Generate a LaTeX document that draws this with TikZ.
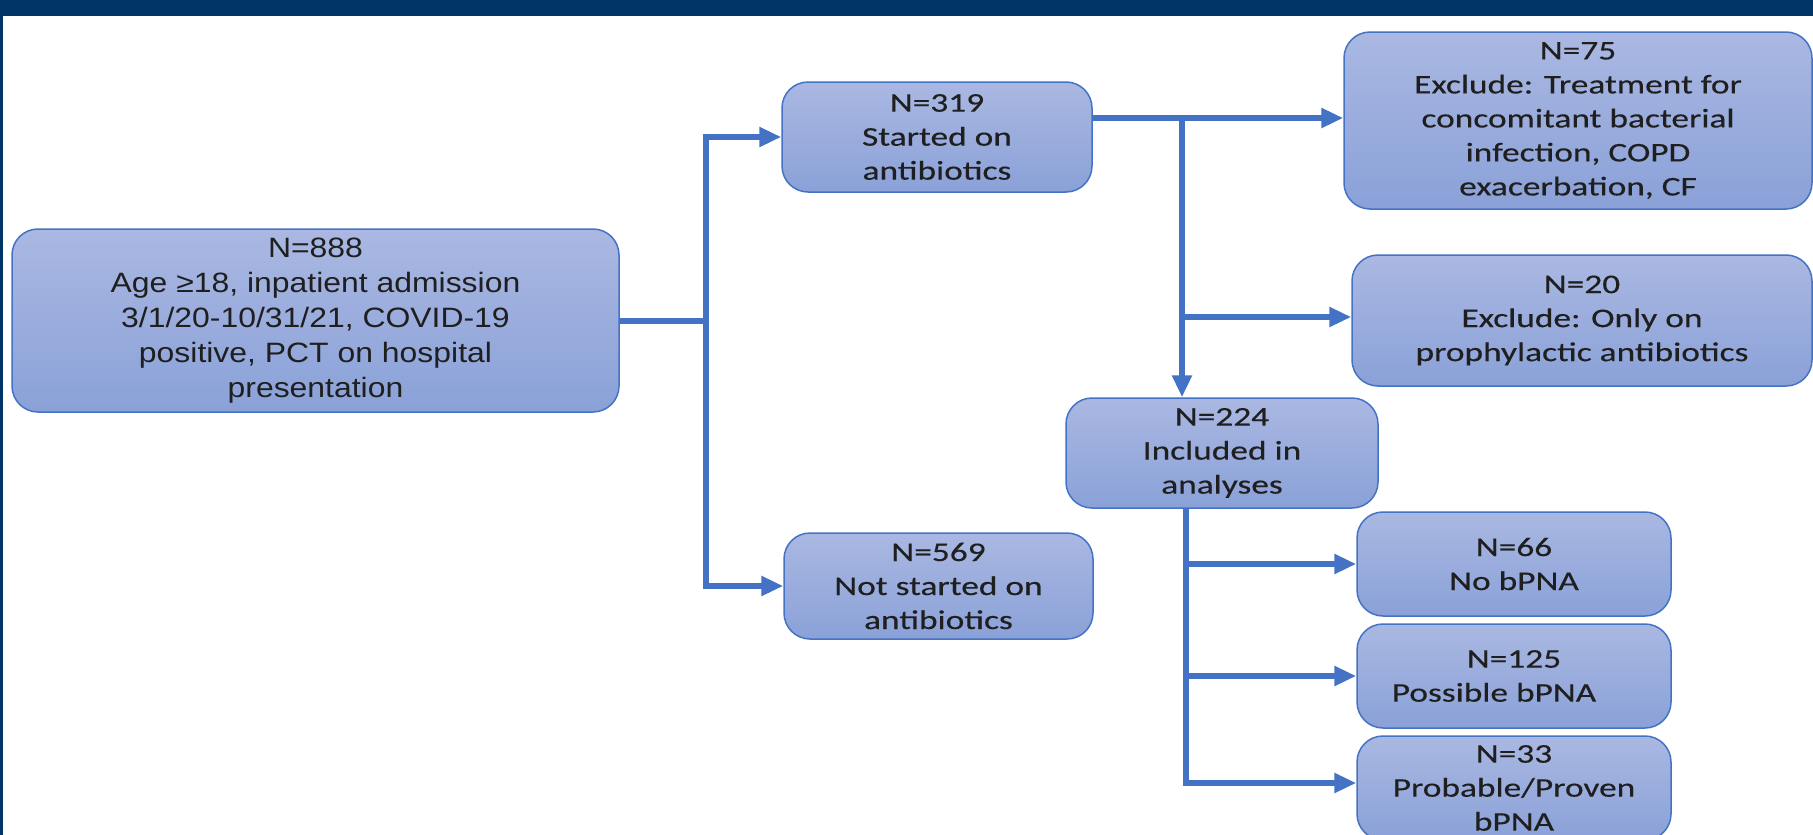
\documentclass[tikz,border=0pt]{standalone}
\usepackage{fontspec}
\setmainfont{Carlito}[FakeStretch=1.31,FakeBold=0.3]
\newfontfamily\arialfont{Liberation Sans}[FakeStretch=1.14]
\usetikzlibrary{arrows.meta}

\definecolor{navy}{RGB}{0,51,102}
\definecolor{flowblue}{RGB}{68,114,196}
\definecolor{boxtop}{RGB}{170,184,226}
\definecolor{boxbot}{RGB}{138,161,216}

\begin{document}
\begin{tikzpicture}[x=1pt,y=-1pt,
  stagebox/.style={draw=flowblue,line width=1.5pt,rounded corners=26pt,
    top color=boxtop,bottom color=boxbot,align=center,inner sep=0pt,
    text=black!88,font=\fontsize{27}{34}\selectfont},
  link/.style={flowblue,line width=6pt},
  arr/.style={link,-{Triangle[length=22pt,width=19pt]}}]

\useasboundingbox (0,0) rectangle (1813,835);
\clip (0,0) rectangle (1813,835);

% frame
\fill[navy] (0,0) rectangle (1813,16);
\fill[navy] (0,0) rectangle (2.5,835);

% boxes
\node[stagebox,font=\arialfont\fontsize{28}{35}\selectfont,
  minimum width=607pt,minimum height=183pt] (all) at (315.5,320.5)
  {N=888\\Age ≥18, inpatient admission\\3/1/20-10/31/21, COVID-19\\positive, PCT on hospital\\presentation};
\node[stagebox,minimum width=310pt,minimum height=110pt] (abx) at (937,137)
  {N=319\\Started on\\antibiotics};
\node[stagebox,minimum width=309pt,minimum height=106pt] (noabx) at (938.5,586)
  {N=569\\Not started on\\antibiotics};
\node[stagebox,minimum width=468pt,minimum height=177pt] (excl1) at (1578,120.5)
  {N=75\\Exclude: Treatment for\\concomitant bacterial\\infection, COPD\\exacerbation, CF};
\node[stagebox,minimum width=460pt,minimum height=131pt] (excl2) at (1582,320.5)
  {N=20\\Exclude: Only on\\prophylactic antibiotics};
\node[stagebox,minimum width=312pt,minimum height=110pt] (incl) at (1222,453)
  {N=224\\Included in\\analyses};
\node[stagebox,minimum width=314pt,minimum height=104pt] (nopna) at (1514,564)
  {N=66\\No bPNA};
\node[stagebox,minimum width=314pt,minimum height=104pt] (posspna) at (1514,676)
  {N=125\\Possible bPNA\hspace*{40pt}};
\node[stagebox,minimum width=314pt,minimum height=104pt] (probpna) at (1514,788)
  {N=33\\Probable/Proven\\bPNA};

% connectors
\coordinate (split) at (706,320.5);
\draw[link] (all.east) -- (split);
\draw[arr] (split) |- (abx.west);
\draw[arr] (split) |- (noabx.west);

\coordinate (tap) at ([yshift=19pt]abx.east);
\coordinate (drop) at (1182,118);
\draw[arr] (tap) -- (tap -| excl1.west);
\draw[arr] (drop) -- (drop |- incl.north);
\coordinate (side) at (1182,317);
\draw[arr] (side) -- (side -| excl2.west);

\coordinate (fan) at ([xshift=-36pt]incl.south);
\draw[arr] (fan) |- (nopna.west);
\draw[arr] (fan) |- (posspna.west);
\draw[arr] (fan) |- ([yshift=5pt]probpna.west);

\end{tikzpicture}
\end{document}
